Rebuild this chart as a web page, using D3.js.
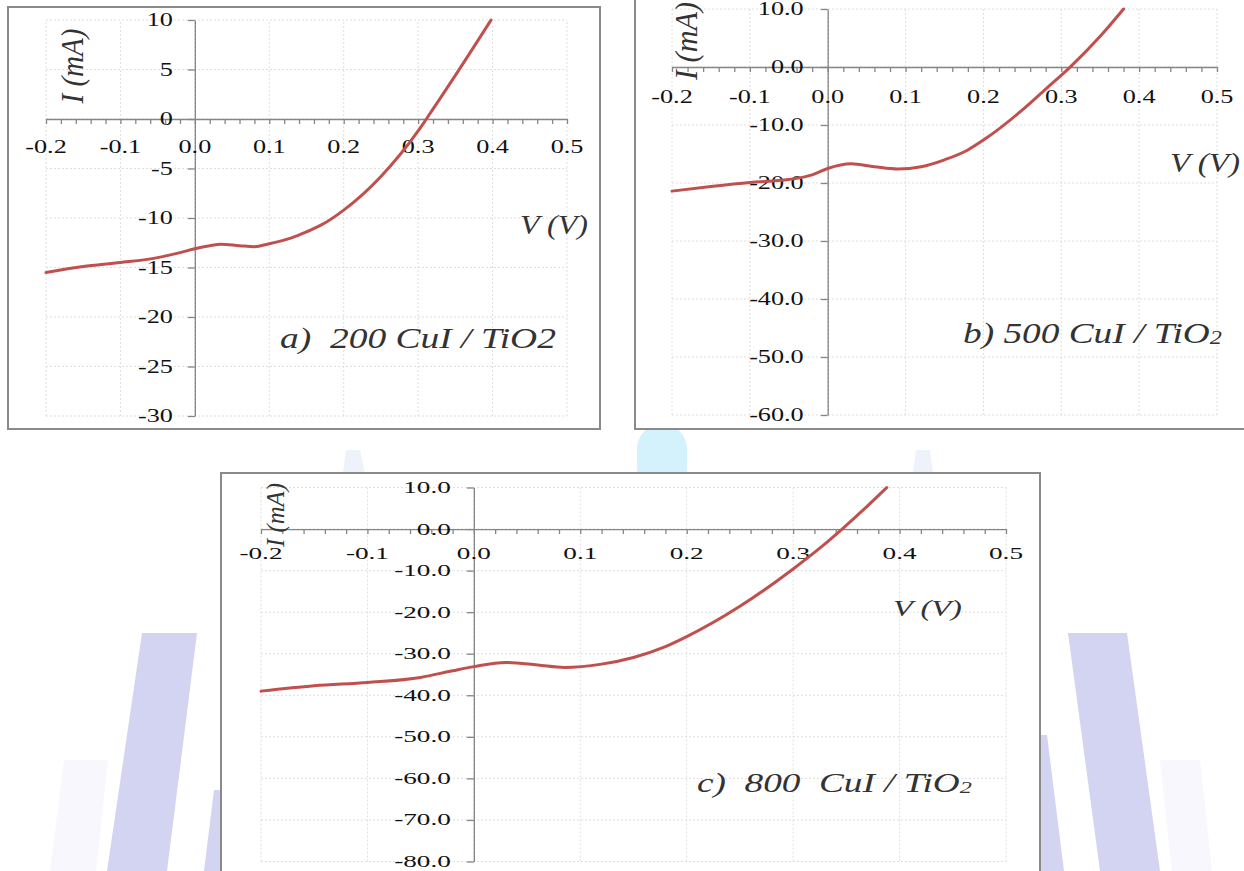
<!DOCTYPE html>
<html>
<head>
<meta charset="utf-8">
<script src="https://cdn.jsdelivr.net/npm/d3@7"></script>
<style>
  html, body { margin: 0; padding: 0; background: #fff; overflow: hidden; }
  text { font-family: "Liberation Serif", "Times New Roman", serif; white-space: pre; }
</style>
</head>
<body>
<svg id="chart" width="1244" height="871"></svg>
<script>
/* Data */
const xTicks = [-0.2, -0.1, 0.0, 0.1, 0.2, 0.3, 0.4, 0.5];

const voltsA = [-0.2, -0.15, -0.1, -0.05, -0.02, 0.0, 0.02, 0.035, 0.06, 0.08, 0.1, 0.13, 0.15, 0.17, 0.2, 0.25, 0.3, 0.311, 0.35, 0.398];
const currentA = [-15.5, -14.9, -14.5, -14.0, -13.5, -13.1, -12.8, -12.65, -12.8, -12.9, -12.6, -12.0, -11.4, -10.7, -9.2, -5.8, -1.2, 0.0, 4.4, 10.0];
const yTicksA = [10, 5, 0, -5, -10, -15, -20, -25, -30];

const voltsB = [-0.2, -0.15, -0.1, -0.05, -0.02, 0.0, 0.03, 0.06, 0.09, 0.12, 0.15, 0.18, 0.2, 0.25, 0.28, 0.31, 0.35, 0.38];
const currentB = [-21.4, -20.6, -19.9, -19.4, -18.6, -17.5, -16.7, -17.2, -17.6, -17.2, -16.0, -14.3, -12.6, -7.4, -3.8, -0.2, 5.3, 10.0];
const yTicksB = [10, 0, -10, -20, -30, -40, -50, -60];

const voltsC = [-0.2, -0.15, -0.1, -0.05, -0.02, 0.0, 0.03, 0.06, 0.085, 0.12, 0.15, 0.18, 0.2, 0.25, 0.3, 0.325, 0.346, 0.37, 0.388];
const currentC = [-39.0, -37.7, -36.9, -35.7, -34.1, -33.1, -32.1, -32.7, -33.3, -32.5, -30.9, -28.3, -25.9, -18.6, -9.6, -4.6, 0.0, 5.6, 10.0];
const yTicksC = [10, 0, -10, -20, -30, -40, -50, -60, -70, -80];

const notes = {
  a: [['a)  200 CuI / TiO2', false]],
  b: [['b) 500 CuI / TiO', false], ['2', true]],
  c: [['c)  800  CuI / TiO', false], ['2', true]],
};

// plain hyphen as minus sign, like the original
const locale = d3.formatLocale({ decimal: '.', thousands: ',', grouping: [3], currency: ['', ''], minus: '-' });

// Layout of each panel (pixels)
const panels = [
  {
    key: 'a', frame: [8, 7, 592, 422], xr: [46, 567], yr: [416, 20],
    yDomain: [-30, 10], yTicks: yTicksA, fmt: locale.format('d'),
    font: 19, sx: 1.38, yGap: 22, xLabDy: 28,
    yTitle: { cx: 72, cy: 66, len: 75, size: 31 },
    vTitle: { x: 520, y: 225, w: 68, size: 27 },
    note: { x: 280, y: 338, w: 276, size: 29 },
    V: voltsA, I: currentA,
  },
  {
    key: 'b', frame: [635, -10, 620, 439], xr: [672, 1217], yr: [415, 9],
    yDomain: [-60, 10], yTicks: yTicksB, fmt: locale.format('.1f'),
    font: 19, sx: 1.38, yGap: 24, xLabDy: 30,
    yTitle: { cx: 687, cy: 41, len: 78, size: 31 },
    vTitle: { x: 1170, y: 163, w: 70, size: 27 },
    note: { x: 963, y: 333, w: 259, size: 29 },
    V: voltsB, I: currentB,
  },
  {
    key: 'c', frame: [221, 473, 819, 420], xr: [261, 1006], yr: [861.5, 487.5],
    yDomain: [-80, 10], yTicks: yTicksC, fmt: locale.format('.1f'),
    font: 16.5, sx: 1.65, yGap: 23, xLabDy: 24,
    yTitle: { cx: 275, cy: 515, len: 64, size: 26 },
    vTitle: { x: 893, y: 608, w: 69, size: 24 },
    note: { x: 697, y: 783, w: 275, size: 27 },
    V: voltsC, I: currentC,
  },
];

const svg = d3.select('#chart');

/* Background watermark */
const wm = svg.append('g');
wm.append('rect')
  .attr('x', 637).attr('y', 424).attr('width', 50).attr('height', 70).attr('rx', 25)
  .attr('fill', '#d4f2fb');
[
  [[64, 760], [108, 760], [96, 871], [50, 871]],
  [[1160, 760], [1200, 760], [1212, 871], [1172, 871]],
].forEach((p) => wm.append('polygon').attr('points', p.join(' ')).attr('fill', '#f7f7fd'));
[
  [[142, 633], [197, 633], [167, 871], [107, 871]],
  [[1068, 633], [1127, 633], [1160, 871], [1100, 871]],
  [[214, 790], [221, 790], [221, 871], [204, 871]],
  [[1040, 735], [1047, 735], [1064, 871], [1040, 871]],
].forEach((p) => wm.append('polygon').attr('points', p.join(' ')).attr('fill', '#d3d3f2'));
[
  [[346, 450], [360, 450], [366, 480], [342, 480]],
  [[916, 450], [930, 450], [934, 480], [912, 480]],
].forEach((p) => wm.append('polygon').attr('points', p.join(' ')).attr('fill', '#edf2fb'));

/* Scale factor that stretches a text node to a given width */
const fit = (sel, w) => w / sel.node().getComputedTextLength();

const line = d3.line().curve(d3.curveMonotoneX);

panels.forEach((p) => {
  const g = svg.append('g');
  const [fx, fy, fw, fh] = p.frame;

  // Frame
  g.append('rect')
    .attr('x', fx).attr('y', fy).attr('width', fw).attr('height', fh)
    .attr('fill', '#fff').attr('stroke', '#8a8a8a').attr('stroke-width', 2);

  const x = d3.scaleLinear().domain([-0.2, 0.5]).range(p.xr);
  const y = d3.scaleLinear().domain(p.yDomain).range(p.yr);

  // Gridlines
  g.append('g').selectAll('line').data(xTicks).join('line')
    .attr('x1', (d) => x(d)).attr('x2', (d) => x(d))
    .attr('y1', y.range()[0]).attr('y2', y.range()[1])
    .attr('stroke', '#dedede').attr('stroke-dasharray', '2,2');
  g.append('g').selectAll('line').data(p.yTicks).join('line')
    .attr('x1', x.range()[0]).attr('x2', x.range()[1])
    .attr('y1', (d) => y(d)).attr('y2', (d) => y(d))
    .attr('stroke', '#dedede').attr('stroke-dasharray', '2,2');

  // X axis at I = 0 with minor ticks
  const minor = d3.range(-10, 26).map((k) => +(k * 0.02).toFixed(2));
  const xAxis = g.append('g')
    .attr('transform', `translate(0,${y(0)})`)
    .call(d3.axisBottom(x).tickValues(minor).tickSize(5).tickSizeOuter(0).tickFormat(''));
  xAxis.selectAll('path, line').attr('stroke', '#868686').attr('stroke-width', 1.3);

  // Y axis at V = 0
  const yAxis = g.append('g')
    .attr('transform', `translate(${x(0)},0)`)
    .call(d3.axisLeft(y).tickValues(p.yTicks).tickSize(7).tickSizeOuter(0).tickFormat(''));
  yAxis.selectAll('path, line').attr('stroke', '#868686').attr('stroke-width', 1.3);

  // Tick labels
  g.append('g').selectAll('text').data(xTicks).join('text')
    .attr('transform', (d) => `translate(${x(d)},${y(0) + p.xLabDy}) scale(${p.sx},1)`)
    .attr('text-anchor', 'middle').attr('dominant-baseline', 'central')
    .attr('font-size', p.font).attr('fill', '#111')
    .text((d) => locale.format('.1f')(d));
  g.append('g').selectAll('text').data(p.yTicks).join('text')
    .attr('transform', (d) => `translate(${x(0) - p.yGap},${y(d)}) scale(${p.sx},1)`)
    .attr('text-anchor', 'end').attr('dominant-baseline', 'central')
    .attr('font-size', p.font).attr('fill', '#111')
    .text((d) => p.fmt(d));

  // Curve
  g.append('path')
    .datum(p.V.map((v, i) => [x(v), y(p.I[i])]))
    .attr('d', line)
    .attr('fill', 'none').attr('stroke', '#c0504d').attr('stroke-width', 3)
    .attr('stroke-linecap', 'round');

  // Axis titles
  const yt = g.append('text')
    .attr('font-size', p.yTitle.size).attr('font-style', 'italic').attr('fill', '#333')
    .attr('text-anchor', 'middle').attr('dominant-baseline', 'central')
    .text('I (mA)');
  yt.attr('transform', `translate(${p.yTitle.cx},${p.yTitle.cy}) rotate(-90) scale(${fit(yt, p.yTitle.len)},1)`);

  const vt = g.append('text')
    .attr('font-size', p.vTitle.size).attr('font-style', 'italic').attr('fill', '#333')
    .attr('dominant-baseline', 'central')
    .text('V (V)');
  vt.attr('transform', `translate(${p.vTitle.x},${p.vTitle.y}) scale(${fit(vt, p.vTitle.w)},1)`);

  // Sample note
  const nt = g.append('text')
    .attr('font-size', p.note.size).attr('font-style', 'italic').attr('fill', '#333')
    .attr('dominant-baseline', 'central');
  notes[p.key].forEach(([s, sub]) => {
    const t = nt.append('tspan').text(s);
    if (sub) t.attr('font-size', p.note.size * 0.65).attr('dy', '0.25em');
  });
  nt.attr('transform', `translate(${p.note.x},${p.note.y}) scale(${fit(nt, p.note.w)},1)`);
});
</script>
</body>
</html>
